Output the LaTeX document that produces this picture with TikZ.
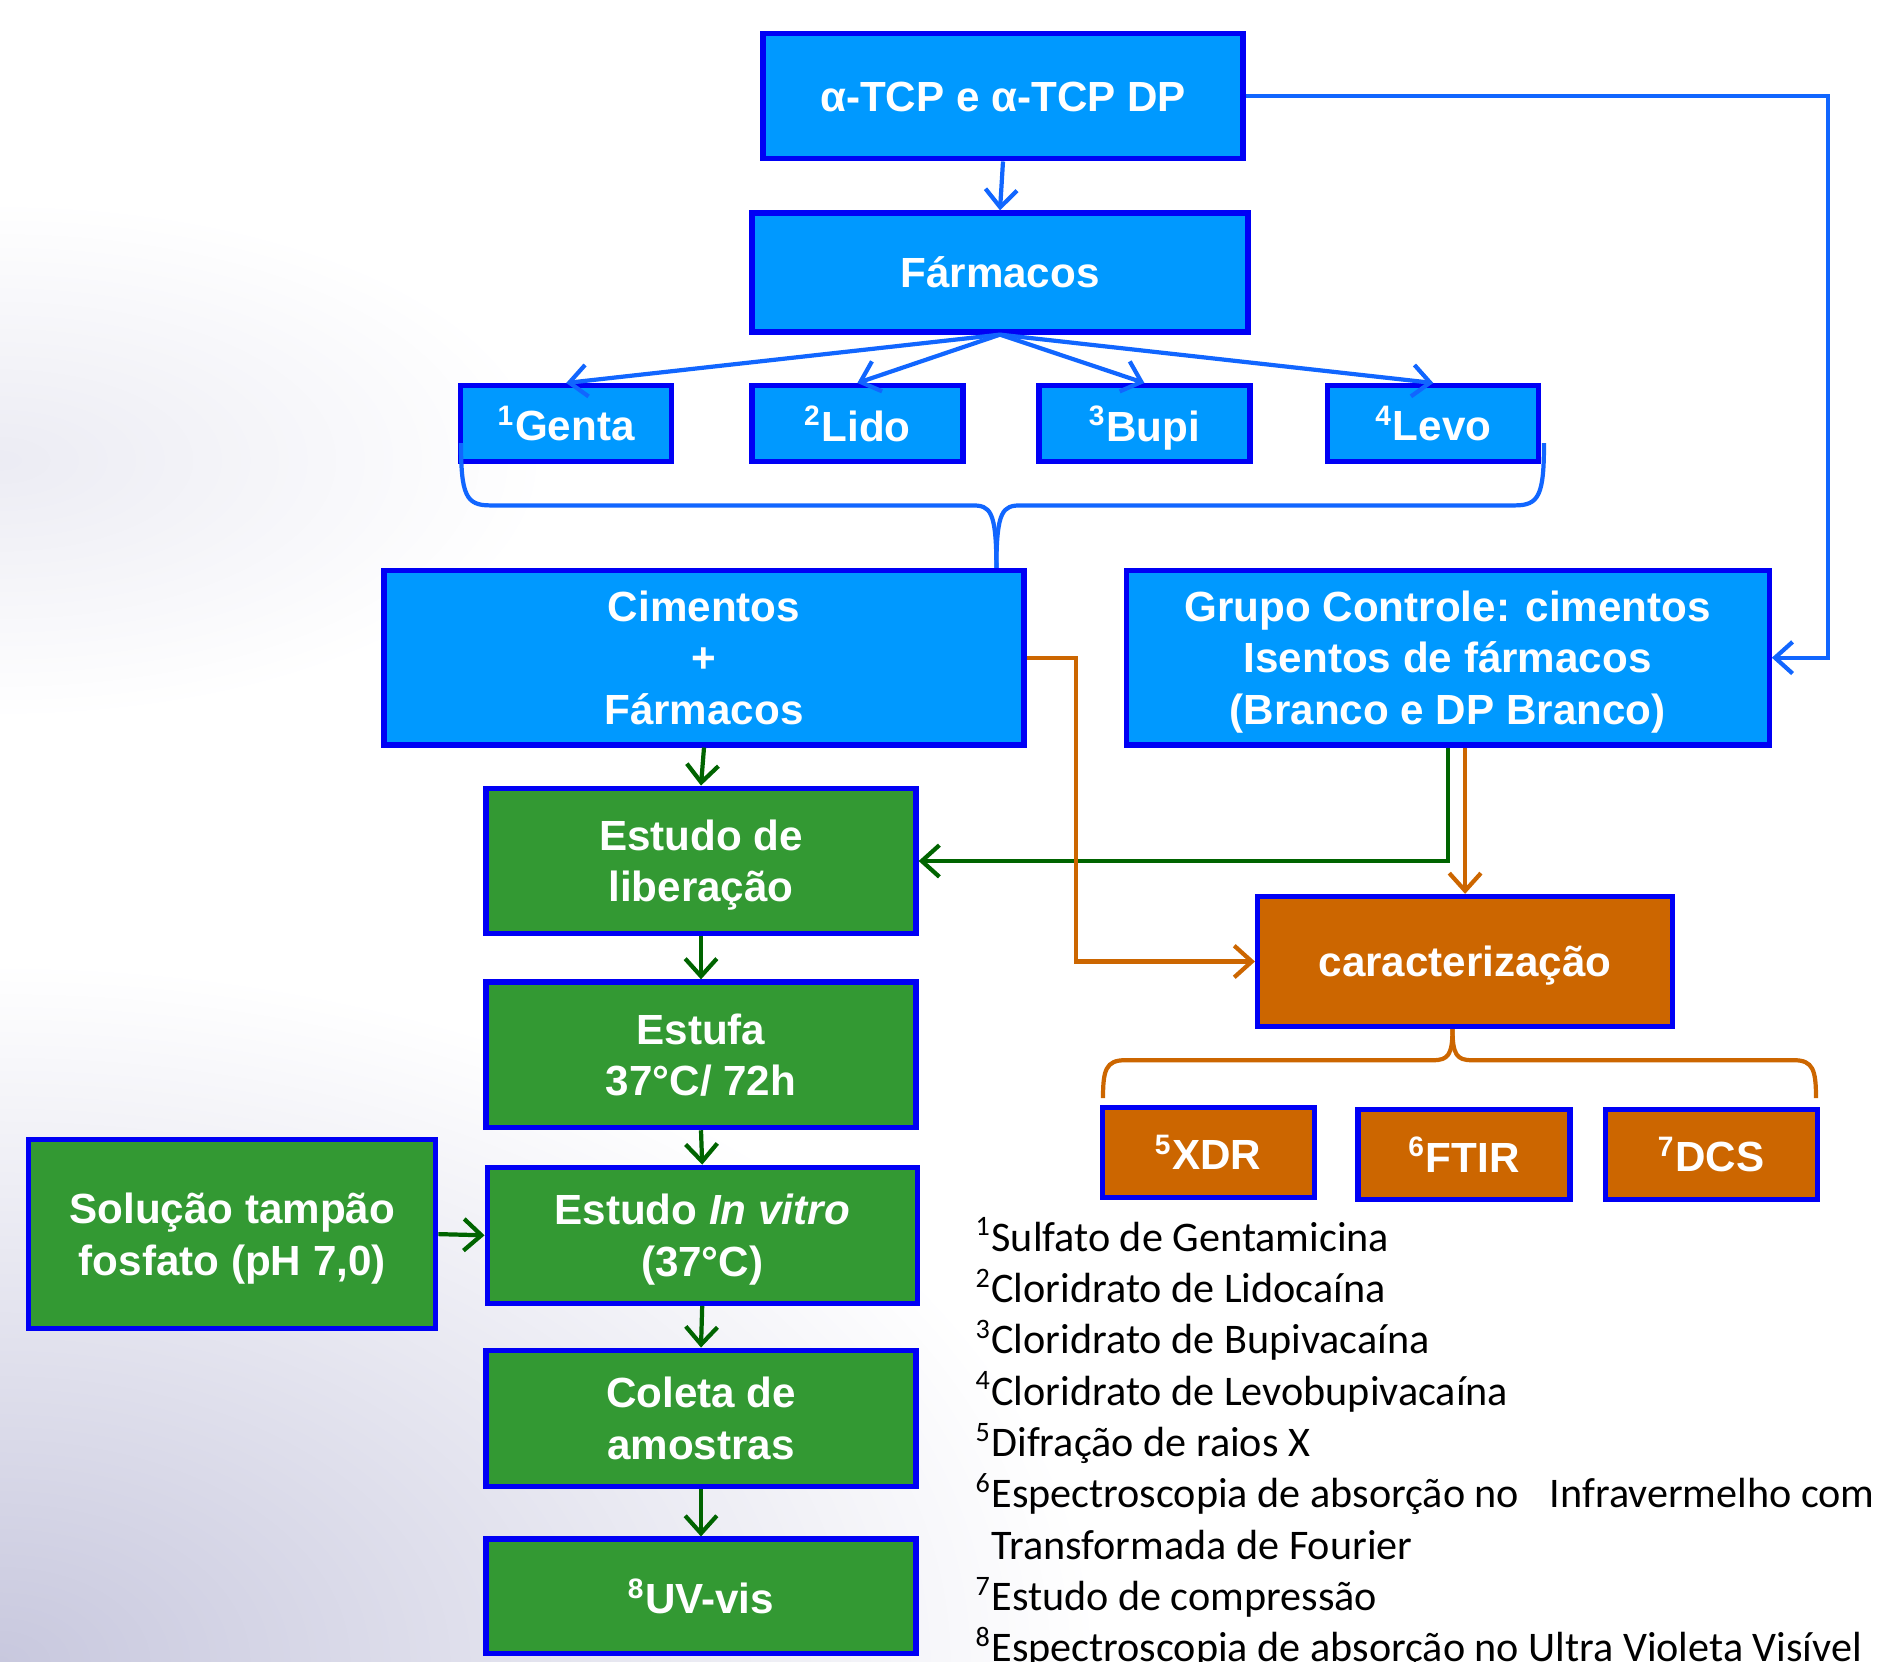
\documentclass[tikz,border=0pt]{standalone}
\usepackage{fontspec}
\setmainfont{Liberation Sans}
\newfontfamily\notefont{Carlito}
\usetikzlibrary{arrows.meta}
\definecolor{boxblue}{RGB}{0,153,255}
\definecolor{edgeblue}{RGB}{0,0,245}
\definecolor{lineblue}{RGB}{17,102,255}
\definecolor{boxgreen}{RGB}{51,153,51}
\definecolor{linegreen}{RGB}{0,100,0}
\definecolor{boxorange}{RGB}{204,102,0}
\definecolor{haze}{RGB}{200,200,222}
\tikzset{
  box/.style={draw=edgeblue, line width=1.5pt, text=white, align=center, inner sep=0pt, text depth=0pt,
    font=\fontsize{12}{14.6}\selectfont\bfseries},
  bluebox/.style={box, fill=boxblue},
  greenbox/.style={box, fill=boxgreen},
  orangebox/.style={box, fill=boxorange},
  blueline/.style={draw=lineblue, line width=1.2pt},
  greenline/.style={draw=linegreen, line width=1.2pt},
  orangeline/.style={draw=boxorange, line width=1.2pt},
  barb/.style={-{Straight Barb[length=5pt,width=9pt]}}
}

\begin{document}
\begin{tikzpicture}
  \useasboundingbox (0cm,0cm) rectangle (18.87cm,-16.62cm);
  \shade[inner color=haze, outer color=white] (0cm,-16.62cm) ellipse (11cm and 7cm);
  \shade[inner color=haze!35, outer color=white] (0cm,-4.6cm) ellipse (5.5cm and 2.6cm);

  \node[bluebox, minimum width=4.80cm, minimum height=1.25cm] (atcp) at (10.03cm,-0.963cm) {α-TCP e α-TCP DP};
  \node[bluebox, minimum width=4.96cm, minimum height=1.19cm] (farm) at (10.00cm,-2.725cm) {Fármacos};
  \node[bluebox, minimum width=2.11cm, minimum height=0.76cm] (genta) at (5.662cm,-4.236cm) {\textsuperscript{1}Genta};
  \node[bluebox, minimum width=2.11cm, minimum height=0.76cm] (lido) at (8.574cm,-4.236cm) {\textsuperscript{2}Lido};
  \node[bluebox, minimum width=2.11cm, minimum height=0.76cm] (bupi) at (11.444cm,-4.236cm) {\textsuperscript{3}Bupi};
  \node[bluebox, minimum width=2.11cm, minimum height=0.76cm] (levo) at (14.333cm,-4.236cm) {\textsuperscript{4}Levo};
  \node[bluebox, minimum width=6.40cm, minimum height=1.745cm] (ciment) at (7.04cm,-6.577cm) {Cimentos\\+\\Fármacos};
  \node[bluebox, minimum width=6.43cm, minimum height=1.745cm] (grupo) at (14.477cm,-6.577cm) {Grupo Controle: cimentos\\Isentos de fármacos\\(Branco e DP Branco)};

  \node[greenbox, minimum width=4.30cm, minimum height=1.456cm] (libera) at (7.01cm,-8.61cm) {Estudo de\\liberação};
  \node[greenbox, minimum width=4.30cm, minimum height=1.456cm] (estufa) at (7.01cm,-10.548cm) {Estufa\\37°C/ 72h};
  \node[greenbox, minimum width=4.30cm, minimum height=1.36cm] (vitro) at (7.022cm,-12.353cm) {Estudo \textit{In vitro}\\(37°C)};
  \node[greenbox, minimum width=4.07cm, minimum height=1.89cm] (tampao) at (2.323cm,-12.341cm) {Solução tampão\\fosfato (pH 7,0)};
  \node[greenbox, minimum width=4.30cm, minimum height=1.36cm] (coleta) at (7.01cm,-14.182cm) {Coleta de\\amostras};
  \node[greenbox, minimum width=4.30cm, minimum height=1.144cm] (uvvis) at (7.01cm,-15.963cm) {\textsuperscript{8}UV-vis};

  \node[orangebox, minimum width=4.15cm, minimum height=1.30cm] (caract) at (14.651cm,-9.615cm) {caracterização};
  \node[orangebox, minimum width=2.12cm, minimum height=0.90cm] (xdr) at (12.082cm,-11.522cm) {\textsuperscript{5}XDR};
  \node[orangebox, minimum width=2.12cm, minimum height=0.90cm] (ftir) at (14.639cm,-11.546cm) {\textsuperscript{6}FTIR};
  \node[orangebox, minimum width=2.12cm, minimum height=0.90cm] (dcs) at (17.112cm,-11.546cm) {\textsuperscript{7}DCS};

  \draw[blueline, barb] (atcp.south) -- (farm.north);
  \draw[blueline, barb] (farm.south) -- (genta.north);
  \draw[blueline, barb] (farm.south) -- (lido.north);
  \draw[blueline, barb] (farm.south) -- (bupi.north);
  \draw[blueline, barb] (farm.south) -- (levo.north);
  \draw[blueline, barb] (atcp.east) -- ++(5.826cm,0) |- (grupo.east);

  \coordinate (bracetip) at (9.964cm,-5.054cm);
  \draw[blueline] (4.61cm,-4.43cm) .. controls (4.61cm,-4.95cm) and (4.66cm,-5.054cm) .. (4.9cm,-5.054cm)
    -- (9.72cm,-5.054cm) .. controls (9.9cm,-5.054cm) and (9.964cm,-5.1cm) .. (ciment.north -| bracetip);
  \draw[blueline] (15.44cm,-4.43cm) .. controls (15.44cm,-4.95cm) and (15.39cm,-5.054cm) .. (15.15cm,-5.054cm)
    -- (10.21cm,-5.054cm) .. controls (10.03cm,-5.054cm) and (9.964cm,-5.1cm) .. (ciment.north -| bracetip);

  \draw[greenline, barb] (ciment.south) -- (libera.north);
  \draw[greenline, barb] (libera.south) -- (estufa.north);
  \draw[greenline, barb] (estufa.south) -- (vitro.north);
  \draw[greenline, barb] (vitro.south) -- (coleta.north);
  \draw[greenline, barb] (coleta.south) -- (uvvis.north);
  \draw[greenline, barb] (tampao.east) -- (vitro.west);
  \draw[greenline, barb] (grupo.south) |- (libera.east);

  \draw[orangeline, barb] (grupo.south -| caract.north) -- (caract.north);
  \draw[orangeline, barb] (ciment.east) -- ++(0.494cm,0) |- (caract.west);

  \coordinate (lowtip) at (14.525cm,-10.602cm);
  \draw[orangeline] (11.03cm,-10.98cm) .. controls (11.03cm,-10.7cm) and (11.06cm,-10.602cm) .. (11.25cm,-10.602cm)
    -- (14.33cm,-10.602cm) .. controls (14.48cm,-10.602cm) and (14.525cm,-10.55cm) .. (caract.south -| lowtip);
  \draw[orangeline] (18.16cm,-10.98cm) .. controls (18.16cm,-10.7cm) and (18.13cm,-10.602cm) .. (17.94cm,-10.602cm)
    -- (14.72cm,-10.602cm) .. controls (14.57cm,-10.602cm) and (14.525cm,-10.55cm) .. (caract.south -| lowtip);

  \node[anchor=north west, align=left, inner sep=0pt, font=\notefont\fontsize{12}{14.6}\selectfont] (notes) at (9.748cm,-12.17cm)
    {\textsuperscript{1}Sulfato de Gentamicina\\
     \textsuperscript{2}Cloridrato de Lidocaína\\
     \textsuperscript{3}Cloridrato de Bupivacaína\\
     \textsuperscript{4}Cloridrato de Levobupivacaína\\
     \textsuperscript{5}Difração de raios X\\
     \textsuperscript{6}Espectroscopia de absorção no\enspace{} Infravermelho com\\
     \phantom{\textsuperscript{6}}Transformada de Fourier\\
     \textsuperscript{7}Estudo de compressão\\
     \textsuperscript{8}Espectroscopia de absorção no Ultra Violeta Visível};
\end{tikzpicture}
\end{document}
